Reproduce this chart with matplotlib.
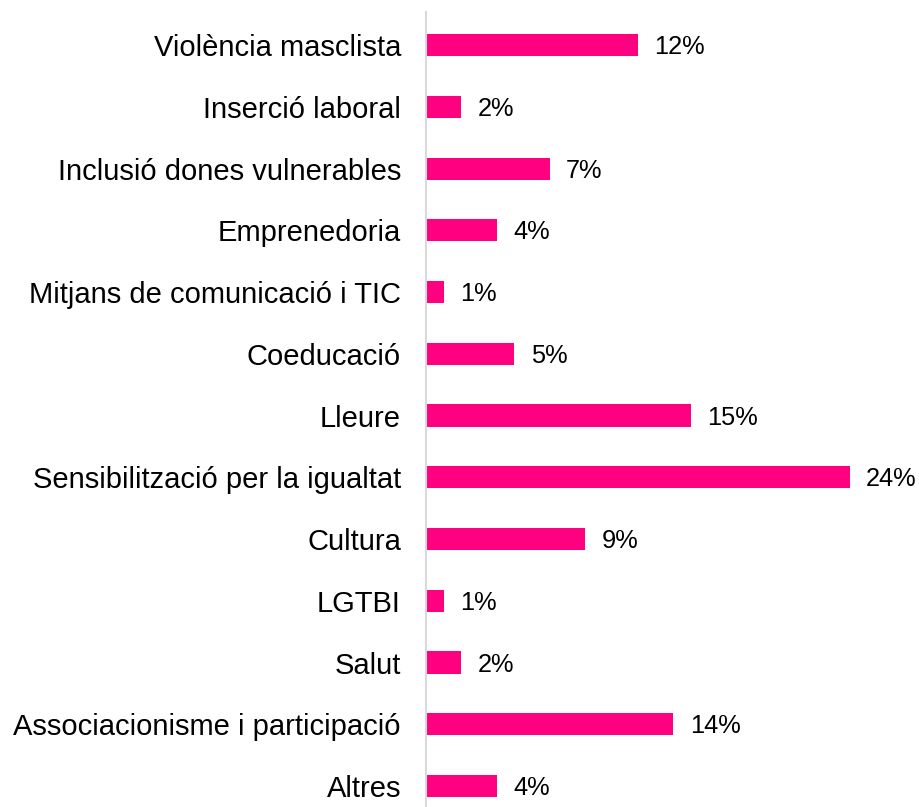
import matplotlib
matplotlib.use('Agg')
import matplotlib.pyplot as plt

CATEGORIES = [
    'Violència masclista', 'Inserció laboral', 'Inclusió dones vulnerables',
    'Emprenedoria', 'Mitjans de comunicació i TIC', 'Coeducació', 'Lleure',
    'Sensibilització per la igualtat', 'Cultura', 'LGTBI', 'Salut',
    'Associacionisme i participació', 'Altres',
]
VALUES = [12, 2, 7, 4, 1, 5, 15, 24, 9, 1, 2, 14, 4]
VALUE_LABELS = ['%d%%' % v for v in VALUES]

plt.rcParams['font.family'] = ['Liberation Sans', 'DejaVu Sans']

fig = plt.figure(figsize=(9.2, 8.07), dpi=100)
ax = fig.add_axes([0.463, 0.0, 0.518, 0.985])

y = list(range(len(CATEGORIES)))
bars = ax.barh(y, VALUES, height=0.36, color='#FF0080', zorder=2)

for b, lab in zip(bars, VALUE_LABELS):
    ax.annotate(lab, (b.get_width(), b.get_y() + b.get_height() / 2),
                xytext=(12, -1.5), textcoords='offset points', va='center',
                ha='left', fontsize=18.3, color='#000000', annotation_clip=False)

ax.set_yticks(y)
ax.set_yticklabels(CATEGORIES, fontsize=21, color='#000000')
ax.tick_params(axis='y', length=0, pad=18)
ax.set_xticks([])
ax.set_xlim(0, 27)
ax.set_ylim(len(CATEGORIES) - 1 + 0.34, -0.535)

for s in ('top', 'right', 'bottom'):
    ax.spines[s].set_visible(False)
ax.spines['left'].set_color('#d9d9d9')
ax.spines['left'].set_linewidth(1.5)

fig.savefig('out.png', dpi=100)
